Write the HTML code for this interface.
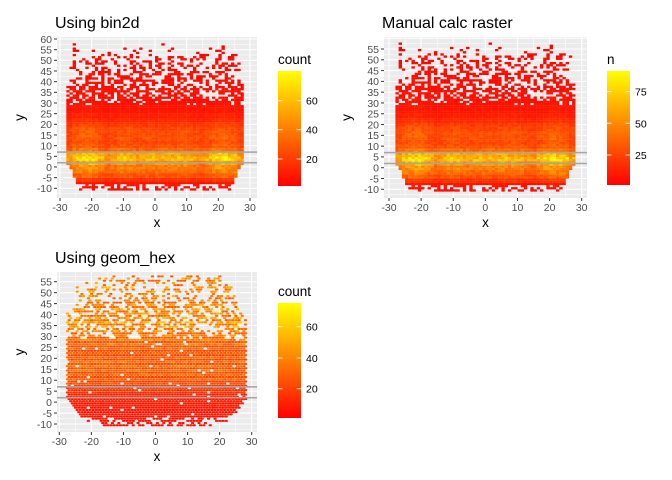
<!DOCTYPE html>
<html><head><meta charset="utf-8">
<style>
html,body{margin:0;padding:0;background:#fff;}
svg{display:block;font-family:"Liberation Sans",sans-serif;}
</style></head>
<body>
<svg id="c" width="672" height="480" viewBox="0 0 672 480"></svg>
<script>
// ---- data ----
// row peak counts for y bins -10,-8,...,56
const rowY = [-10,-8,-6,-4,-2,0,2,4,6,8,10,12,14,16,18,20,22,24,26,28,30,32,34,36,38,40,42,44,46,48,50,52,54,56];
const rowPeak = [3,6,14,25,33,38,45,58,48,32,24,22,24,24,21,17,12,9,7,6,5,4,4,4,3,3,3,3,2,2,2,1.5,1,0.5];
const rowHalfWidth = [24,25,25,26,26,27,28,28,28,28,28,28,28,28,28,28,28,28,28,28,28,28,28,28,28,27,25,24,27,27,27,27,27,27];
// column factor for x bins -29,-27,...,29
const colX = [-29,-27,-25,-23,-21,-19,-17,-15,-13,-11,-9,-7,-5,-3,-1,1,3,5,7,9,11,13,15,17,19,21,23,25,27,29];
const colFactor = [0.6,0.9,1.1,1.2,1.25,1.15,1.0,0.85,0.95,1.05,1.05,1.0,0.95,1.0,1.0,1.0,1.0,1.05,1.0,1.05,1.0,0.9,0.85,1.0,1.15,1.25,1.2,1.1,0.9,0.6];
// hex panel row counts for y bins -10,-8,...,56
const hexRow = [5,6,7,7,8,9,10,14,18,22,26,28,30,32,30,28,26,28,32,34,36,40,44,46,44,42,44,40,38,40,42,45,40,40];
const hexHalfWidth = [18,22,24,25,26,27,28,28,28,28,28,28,28,28,28,28,28,28,28,28,28,28,28,28,28,28,26,25,26,26,25,25,22,20];
const hlines = [2,7];

const NS="http://www.w3.org/2000/svg";
const svg=document.getElementById('c');
function el(tag,attrs,parent){const e=document.createElementNS(NS,tag);for(const k in attrs)e.setAttribute(k,attrs[k]);(parent||svg).appendChild(e);return e;}
function col(v,max){let t=Math.max(0,Math.min(1,v/max));return 'rgb(255,'+Math.round(255*t)+',0)';}
function hash(a,b){let h=(a*374761393+b*668265263)>>>0;h=((h^(h>>>13))*1274126177)>>>0;return ((h^(h>>>16))>>>0)/4294967296;}
function rowIdx(y){let i=Math.floor((y+11)/2);return Math.max(0,Math.min(rowY.length-1,i));}
function colIdx(x){let i=Math.floor((x+30)/2);return Math.max(0,Math.min(colX.length-1,i));}

function panel(cfg){
  const g=el('g',{});
  
  
  const X=v=>cfg.x0+(v-(-30))*(cfg.x1-cfg.x0)/60;
  const Y=v=>cfg.yA+(cfg.vA-v)*(cfg.yB-cfg.yA)/(cfg.vA-cfg.vB);
  const bg=el('rect',{x:cfg.L,y:cfg.T,width:cfg.R-cfg.L,height:cfg.B-cfg.T,fill:'#EBEBEB'},g);
  
  
  for(let v=-35;v<=35;v+=5){const px=X(v);if(px<cfg.L||px>cfg.R)continue;
    el('line',{x1:px,x2:px,y1:cfg.T,y2:cfg.B,stroke:'#fff','stroke-width':v%10===0?1.1:0.5},g);}
  for(let v=-12.5;v<=62.5;v+=2.5){const py=Y(v);if(py<cfg.T||py>cfg.B)continue;
    el('line',{x1:cfg.L,x2:cfg.R,y1:py,y2:py,stroke:'#fff','stroke-width':(v%5===0)?1.1:0.5},g);}
  const cw=(cfg.x1-cfg.x0)/60, ch=(cfg.yB-cfg.yA)/(cfg.vA-cfg.vB);
  for(let y=-11;y<=57;y++){
    const ri=rowIdx(y);
    for(let x=-29;x<29;x++){
      const ci=colIdx(x);
      let v,hw;
      if(cfg.hex){v=hexRow[ri]*(y%2===0?1.1:0.75);hw=hexHalfWidth[ri];}
      else{v=rowPeak[ri]*colFactor[ci]*cfg.scale;hw=rowHalfWidth[ri];}
      if(Math.abs(x+0.5)>hw)continue;
      let base;
      if(cfg.hex){base=y>45?0.35:(y>28?0.6:(y>=-7?0.97:0.6));}
      else{base=Math.min(1,rowPeak[ri]/6);if(y<=-9)base=0.5;}
      if(hash(x+cfg.seed,y)>base)continue;
      const jitter=0.8+0.4*hash(y+7,x+cfg.seed);
      const c=col(v*jitter,cfg.max);
      const r=cfg.hex?el('rect',{x:X(x+(y%2?0.5:0))+0.2,y:Y(y+1)+0.2,width:cw*1.0,height:ch*0.95,fill:c,rx:0.8},g)
                     :el('rect',{x:X(x),y:Y(y+1),width:cw+0.15,height:ch+0.15,fill:c},g);
      
      
    }
  }
  hlines.forEach(h=>{const l=el('line',{x1:cfg.L,x2:cfg.R,y1:Y(h),y2:Y(h),stroke:'#A6A6A6','stroke-width':1.6},g);
    
    });
  for(let v=-30;v<=30;v+=10){const px=X(v);
    el('line',{x1:px,x2:px,y1:cfg.B,y2:cfg.B+3,stroke:'#333','stroke-width':1},g);
    const t=el('text',{x:px,y:cfg.B+13,'font-size':10.5,fill:'#4D4D4D','text-anchor':'middle'},g);t.textContent=v;
    
    }
  for(let v=cfg.yTop;v>=-10;v-=5){const py=Y(v);
    el('line',{x1:cfg.L-3,x2:cfg.L,y1:py,y2:py,stroke:'#333','stroke-width':1},g);
    const t=el('text',{x:cfg.L-5,y:py+3.8,'font-size':10.5,fill:'#4D4D4D','text-anchor':'end'},g);t.textContent=v;
    
    }
  const xt=el('text',{x:(cfg.L+cfg.R)/2,y:cfg.B+29,'font-size':13.5,fill:'#000','text-anchor':'middle'},g);xt.textContent='x';
  
  
  const yt=el('text',{x:0,y:0,'font-size':13.5,fill:'#000','text-anchor':'middle',transform:'translate('+(cfg.L-33)+','+((cfg.T+cfg.B)/2)+') rotate(-90)'},g);yt.textContent='y';
  
  
  const ti=el('text',{x:cfg.L-2,y:cfg.T-9,'font-size':16,fill:'#000'},g);ti.textContent=cfg.title;
  
  
  const gid='grad'+cfg.seed;
  const defs=el('defs',{},g);const lg=el('linearGradient',{id:gid,x1:0,y1:1,x2:0,y2:0},defs);
  el('stop',{offset:0,'stop-color':'#FF0000'},lg);el('stop',{offset:1,'stop-color':'#FFFF00'},lg);
  const bar=el('rect',{x:cfg.lx,y:cfg.lt,width:23,height:cfg.lb-cfg.lt,fill:'url(#'+gid+')'},g);
  
  
  const lt=el('text',{x:cfg.lx,y:cfg.lt-7,'font-size':13.5,fill:'#000'},g);lt.textContent=cfg.legTitle;
  
  
  cfg.legTicks.forEach((v,i)=>{const py=cfg.legY[i];
    el('line',{x1:cfg.lx,x2:cfg.lx+4.5,y1:py,y2:py,stroke:'#fff','stroke-width':1,opacity:0.8},g);
    el('line',{x1:cfg.lx+18.5,x2:cfg.lx+23,y1:py,y2:py,stroke:'#fff','stroke-width':1,opacity:0.8},g);
    const t=el('text',{x:cfg.lx+28,y:py+4,'font-size':10.5,fill:'#000'},g);t.textContent=v;
    
    });
}
panel({name:'panel-bin2d',title:'Using bin2d',L:57,R:257,T:37,B:198,x0:60,x1:250,vA:60,yA:39,vB:-10,yB:188.3,yTop:60,
  scale:1,max:78,seed:1,lx:278,lt:71,lb:186,legTitle:'count',legTicks:[60,40,20],legY:[100.7,129.7,159]});
panel({name:'panel-manual-raster',title:'Manual calc raster',L:384,R:587,T:37,B:198,x0:389,x1:581.7,vA:55,yA:49,vB:-10,yB:189.3,yTop:55,
  scale:1.2,max:92,seed:2,lx:607,lt:71,lb:185,legTitle:'n',legTicks:[75,50,25],legY:[91.7,123.3,155]});
panel({name:'panel-geom-hex',title:'Using geom_hex',hex:true,L:57,R:257,T:272,B:432,x0:59.3,x1:251.7,vA:55,yA:281.7,vB:-10,yB:424,yTop:55,
  scale:1,max:74,seed:3,lx:278,lt:303,lb:418,legTitle:'count',legTicks:[60,40,20],legY:[326.7,358,388.7]});
</script>
</body></html>
